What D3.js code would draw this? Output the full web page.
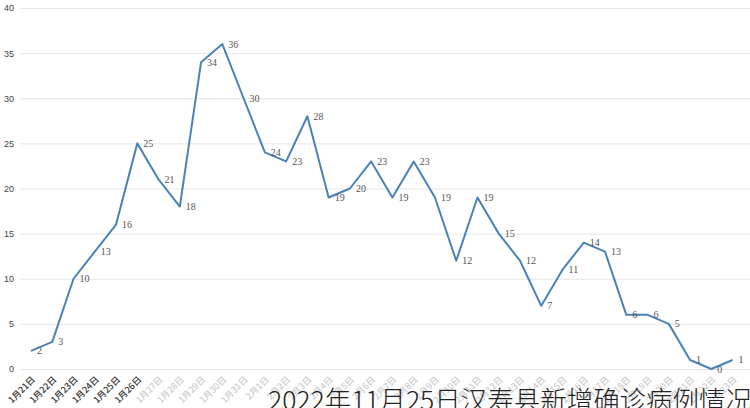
<!DOCTYPE html>
<html>
<head>
<meta charset="utf-8">
<script src="https://cdn.jsdelivr.net/npm/d3@7/dist/d3.min.js"></script>
<style>
html,body{margin:0;padding:0;background:#fff;overflow:hidden;}
svg{display:block;}
</style>
</head>
<body>
<svg id="chart" width="750" height="408"></svg>
<script>
const dates = ['1月21日','1月22日','1月23日','1月24日','1月25日','1月26日','1月27日','1月28日','1月29日','1月30日','1月31日',
  '2月1日','2月2日','2月3日','2月4日','2月5日','2月6日','2月7日','2月8日','2月9日','2月10日','2月11日',
  '2月12日','2月13日','2月14日','2月15日','2月16日','2月17日','2月18日','2月19日','2月20日','2月21日','2月22日','2月23日'];
const cases = [2,3,10,13,16,25,21,18,34,36,30,24,23,28,19,20,23,19,23,19,12,19,15,12,7,11,14,13,6,6,5,1,0,1];
const yTicks = [0,5,10,15,20,25,30,35,40];
const title = '2022年11月25日汉寿县新增确诊病例情况';

const svg = d3.select('#chart');
const x = d3.scalePoint().domain(dates).range([31, 732.6]);
const y = d3.scaleLinear().domain([0, 40]).range([369, 8]);

// y axis + gridlines
const ya = svg.append('g').attr('transform','translate(20,0)')
  .call(d3.axisLeft(y).tickValues(yTicks).tickSize(-730).tickPadding(6));
ya.select('.domain').remove();
ya.selectAll('line').attr('stroke','#e6e6e6').attr('stroke-width',1);
ya.selectAll('text').attr('font-family','"Liberation Sans", Arial, sans-serif').attr('font-size',9).attr('fill','#444');

// x axis
const xa = svg.append('g').attr('transform','translate(0,369)')
  .call(d3.axisBottom(x).tickSize(0).tickPadding(0));
xa.select('.domain').remove();
xa.selectAll('text')
  .attr('font-family','"Noto Sans CJK SC", sans-serif')
  .attr('font-size',9)
  .attr('font-weight',500)
  .attr('text-anchor','end')
  .attr('y',0).attr('dy','0.35em')
  .attr('transform','translate(2,9) rotate(-45)')
  .attr('fill',(d,i)=> i < 6 ? '#333' : '#cccccc');

// line
const line = d3.line().x((d,i)=>x(dates[i])).y(d=>y(d));
svg.append('path').datum(cases)
  .attr('d', line)
  .attr('fill','none')
  .attr('stroke','#4a82b8')
  .attr('stroke-width',2)
  .attr('stroke-linejoin','round');

// data labels
svg.append('g').selectAll('text').data(cases).join('text')
  .attr('x',(d,i)=>x(dates[i]) + 6)
  .attr('y',d=>y(d))
  .attr('dy','0.35em')
  .attr('font-family','"Liberation Serif", "Times New Roman", serif')
  .attr('font-size',10)
  .attr('fill','#555')
  .text(d=>d);

// title
svg.append('text')
  .attr('x',268).attr('y',410)
  .attr('font-family','"Noto Sans CJK SC", sans-serif')
  .attr('font-weight',300)
  .attr('font-size',26)
  .attr('fill','#222')
  .attr('textLength',484)
  .attr('lengthAdjust','spacingAndGlyphs')
  .text(title);
</script>
</body>
</html>
